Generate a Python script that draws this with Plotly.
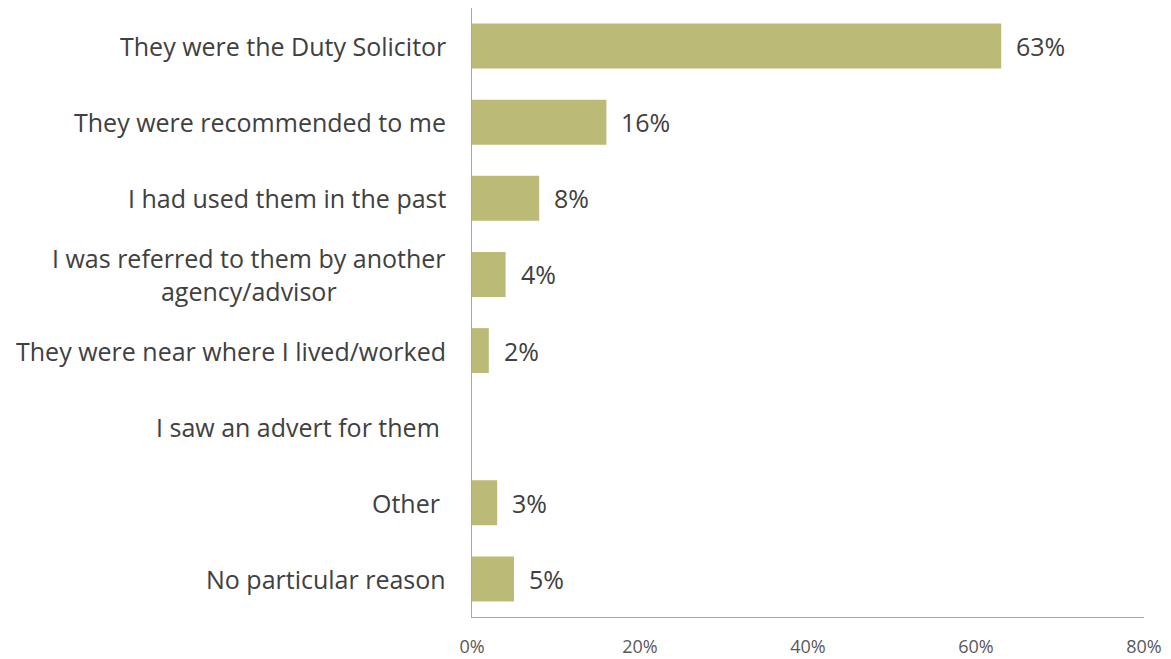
import plotly.graph_objects as go

categories = [
    "They were the Duty Solicitor",
    "They were recommended to me",
    "I had used them in the past",
    "I was referred to them by another<br>agency/advisor",
    "They were near where I lived/worked",
    "I saw an advert for them\u00a0",
    "Other\u00a0",
    "No particular reason",
]
values = [63, 16, 8, 4, 2, 0, 3, 5]
tick_vals = [0, 20, 40, 60, 80]
tick_text = ["0%", "20%", "40%", "60%", "80%"]

BAR = "#BBBB77"
TXT = "#404040"
AXIS = "#A6A6A6"
FONT = "Open Sans"

fig = go.Figure()
fig.add_trace(go.Bar(
    y=categories, x=values, orientation="h",
    marker=dict(color=BAR, line=dict(width=0)),
    hoverinfo="skip",
))

annotations = []
for c, v in zip(categories, values):
    annotations.append(dict(
        x=0, xref="paper", y=c, yref="y", text=c,
        xanchor="right", yanchor="middle", align="center",
        xshift=-24, showarrow=False,
        font=dict(family=FONT, size=25, color=TXT),
    ))
    if v > 0:
        annotations.append(dict(
            x=v, xref="x", y=c, yref="y", text=f"{v}%",
            xanchor="left", yanchor="middle", xshift=13,
            showarrow=False,
            font=dict(family=FONT, size=25, color=TXT),
        ))

fig.update_layout(
    width=1171, height=659,
    margin=dict(l=472, r=27, t=8, b=42),
    paper_bgcolor="white", plot_bgcolor="white",
    showlegend=False,
    bargap=0.41,
    annotations=annotations,
    xaxis=dict(
        range=[0, 80], tickvals=tick_vals, ticktext=tick_text,
        showgrid=False, zeroline=False, showline=True, linecolor=AXIS, linewidth=1,
        ticks="", tickfont=dict(family=FONT, size=18, color="#595959"),
        ticklabelstandoff=13, automargin=False,
    ),
    yaxis=dict(
        categoryorder="array", categoryarray=categories[::-1],
        showticklabels=False, showgrid=False, zeroline=False,
        showline=True, linecolor=AXIS, linewidth=1, ticks="", automargin=False,
    ),
)

fig.write_html("out.html", config={"displayModeBar": False},
               post_script="document.body.style.margin='0';")
